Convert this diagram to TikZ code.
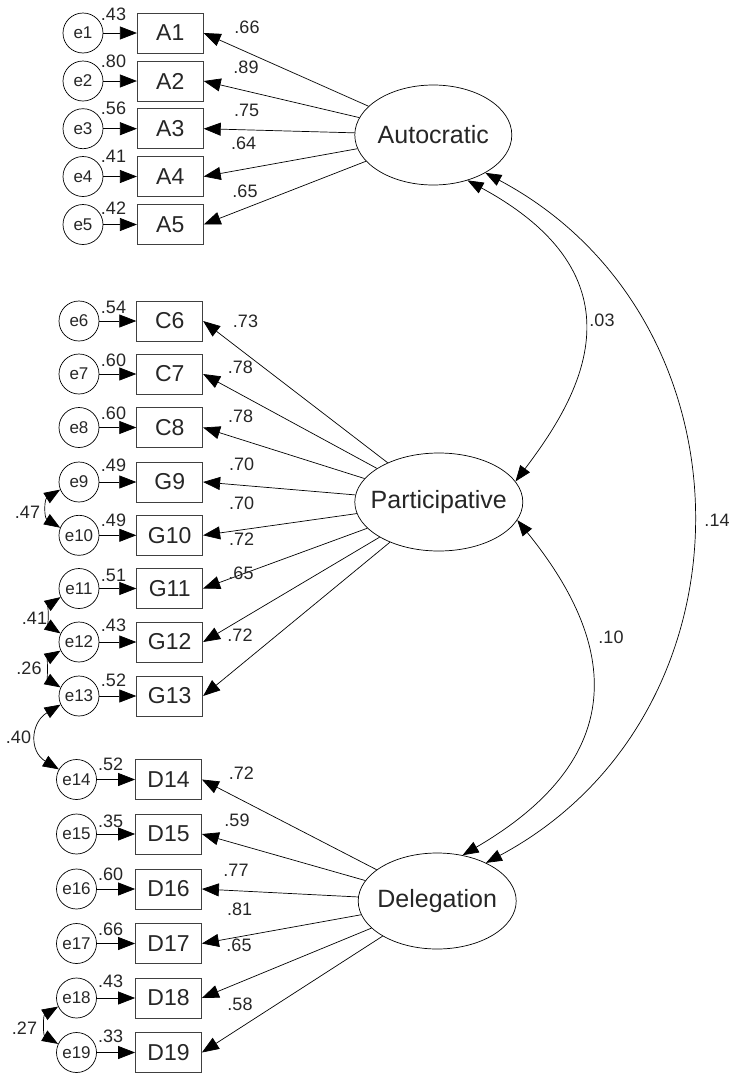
\documentclass[tikz,border=0pt]{standalone}
\usepackage{fontspec}
\setmainfont{Liberation Sans}
\usetikzlibrary{positioning, arrows.meta, shapes.geometric, calc}

\begin{document}
\begin{tikzpicture}[
    x=1pt, y=-1pt,
    arrow/.style={-{Triangle[length=17pt, width=13pt]}, line width=0.7pt},
    twoway/.style={{Triangle[length=16pt, width=12pt]}-{Triangle[length=16pt, width=12pt]}, line width=0.7pt},
    obs/.style={draw=black!75, line width=0.8pt, minimum width=66pt, minimum height=40pt, inner sep=0pt, text=black!85, font=\fontsize{23}{23}\selectfont},
    err/.style={draw, circle, line width=0.7pt, minimum size=40pt, inner sep=0pt, text=black!85, font=\fontsize{17}{17}\selectfont},
    latent/.style={draw, ellipse, line width=0.7pt, inner sep=0pt, text=black!85, font=\fontsize{25}{25}\selectfont},
    num/.style={inner sep=0pt, text=black!85, font=\fontsize{18}{18}\selectfont}
]
    \useasboundingbox (0, 0) rectangle (733, 1074);

    % Latent factors
    \node[latent, minimum width=157pt, minimum height=100pt] (autocratic) at (433.3, 135) {\makebox[0pt]{Autocratic}};
    \node[latent, minimum width=168pt, minimum height=98pt] (participative) at (438.8, 502) {\makebox[0pt]{Participative}};
    \node[latent, minimum width=158pt, minimum height=96pt] (delegation) at (437.2, 901) {\makebox[0pt]{Delegation}};

    % Autocratic items
    \foreach \n/\obs/\y/\var/\vy/\lx/\ly/\ld in {1/A1/33/.43/14/247/27/.66, 2/A2/81/.80/61.7/246/67/.89,
        3/A3/128.7/.56/108.3/246.7/110/.75, 4/A4/176.5/.41/156.7/243.7/143.5/.64, 5/A5/224.5/.42/208.3/245/191/.65}{
        \node[err] (e\n) at (83, \y) {e\n};
        \node[obs] (\obs) at (170.3, \y) {\obs};
        \draw[arrow] (e\n) -- (\obs);
        \draw[arrow] (autocratic) -- (\obs.east);
        \node[num] (v\n) at (113.5, \vy) {\var};
        \node[num] (l\n) at (\lx, \ly) {\ld};
    }

    % Participative items
    \foreach \n/\obs/\y/\var/\vy/\lx/\ly/\ld in {6/C6/321/.54/307.5/245.5/321.5/.73, 7/C7/374/.60/360/240.3/367/.78,
        8/C8/427.5/.60/413/240.6/416.5/.78, 9/G9/482/.49/465/241.7/464/.70, 10/G10/535.3/.49/520/241.7/503/.70,
        11/G11/588.5/.51/575/241.7/539/.72, 12/G12/642/.43/625/241/573.5/.65, 13/G13/696/.52/680/240/635/.72}{
        \node[err] (e\n) at (79, \y) {e\n};
        \node[obs] (\obs) at (169.7, \y) {\obs};
        \draw[arrow] (e\n) -- (\obs);
        \draw[arrow] (participative) -- (\obs.east);
        \node[num] (v\n) at (113.5, \vy) {\var};
        \node[num] (l\n) at (\lx, \ly) {\ld};
    }

    % Delegation items
    \foreach \n/\obs/\y/\var/\vy/\lx/\ly/\ld in {14/D14/779.5/.52/764/241.3/773/.72, 15/D15/834/.35/821.5/237/820/.59,
        16/D16/889/.60/874/236/870/.77, 17/D17/943.5/.66/929/239.7/909/.81, 18/D18/998/.43/981.5/239/945/.65,
        19/D19/1052.5/.33/1036.5/240/1004.5/.58}{
        \node[err] (e\n) at (76.5, \y) {e\n};
        \node[obs] (\obs) at (168.5, \y) {\obs};
        \draw[arrow] (e\n) -- (\obs);
        \draw[arrow] (delegation) -- (\obs.east);
        \node[num] (v\n) at (110.7, \vy) {\var};
        \node[num] (l\n) at (\lx, \ly) {\ld};
    }

    % Error covariances
    \draw[twoway] (e9.202) .. controls +(-16, 10) and +(-16, -10) .. (e10.158);
    \node[num] (c1) at (27.5, 512) {.47};
    \draw[twoway] (e11.205) .. controls +(-12, 8) and +(-12, -8) .. (e12.155);
    \node[num] (c2) at (34.5, 618) {.41};
    \draw[twoway] (e12.205) .. controls +(-13, 8) and +(-13, -8) .. (e13.155);
    \node[num] (c3) at (29, 668) {.26};
    \draw[twoway] (e13.205) .. controls +(-30, 18) and +(-30, -18) .. (e14.150);
    \node[num] (c4) at (18.5, 737) {.40};
    \draw[twoway] (e18.205) .. controls +(-15, 9) and +(-15, -9) .. (e19.155);
    \node[num] (c5) at (24.5, 1028) {.27};

    % Factor covariances
    \draw[twoway] (autocratic.-53) .. controls (655, 282) and (573, 405) .. (participative.15);
    \node[num] (r1) at (602, 320) {.03};
    \draw[twoway] (participative.-13) .. controls (590, 610) and (660, 740) .. (delegation.61);
    \node[num] (r2) at (611, 637) {.10};
    \draw[twoway] (autocratic.-36) .. controls (760, 319) and (762, 715) .. (delegation.38);
    \node[num] (r3) at (717, 520) {.14};

\end{tikzpicture}
\end{document}
